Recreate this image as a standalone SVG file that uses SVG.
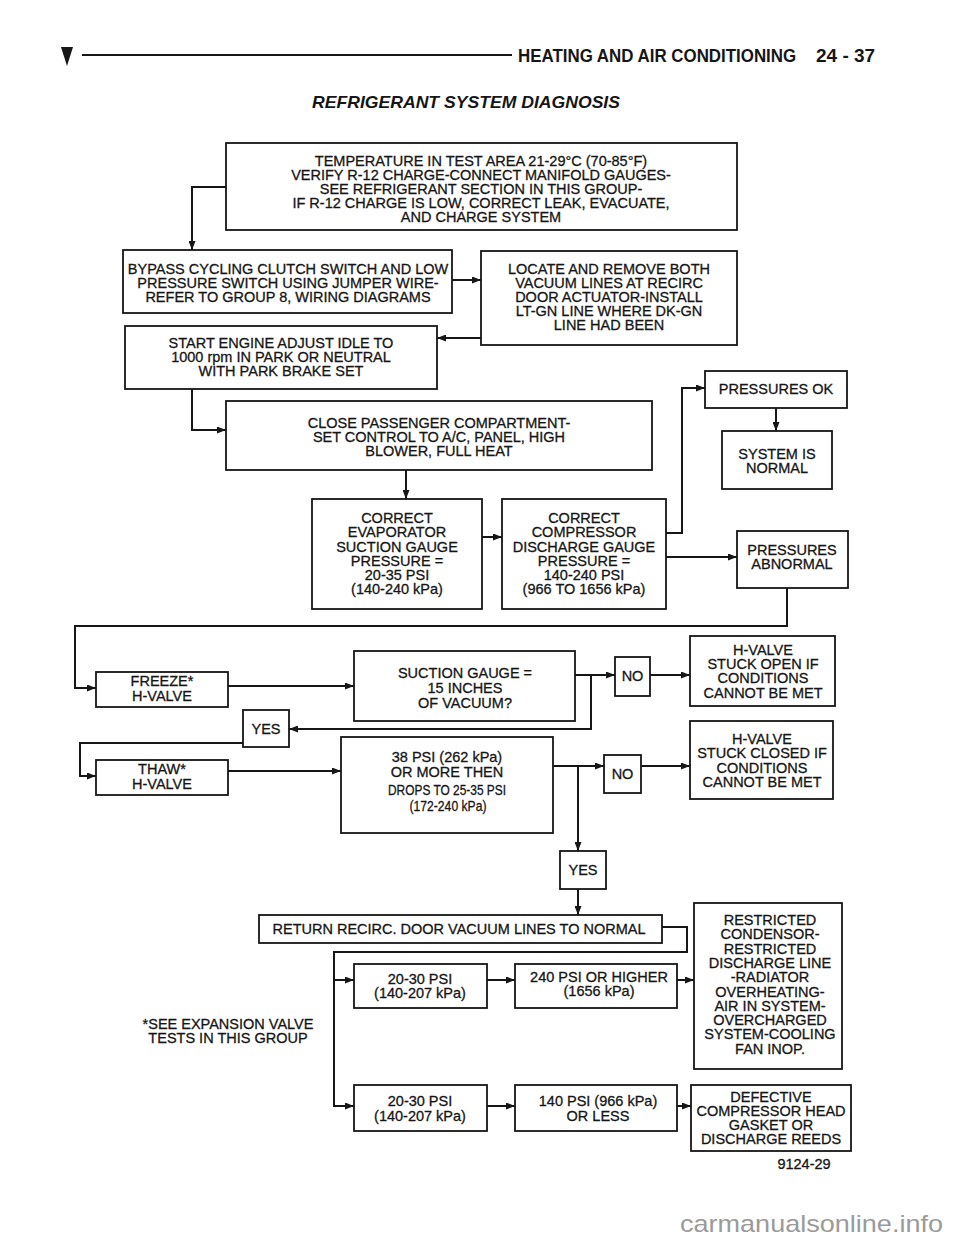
<svg xmlns="http://www.w3.org/2000/svg" width="960" height="1242" viewBox="0 0 960 1242">
<style>
.bx{fill:#fff;stroke:#161616;stroke-width:1.8}
.t{font-family:"Liberation Sans",Arial,sans-serif;font-size:14.5px;fill:#161616;stroke:#161616;stroke-width:0.3;text-anchor:middle}
.c{fill:none;stroke:#161616;stroke-width:2}
.a{fill:none;stroke:#161616;stroke-width:2;marker-end:url(#ah)}
.h{font-family:"Liberation Sans",Arial,sans-serif;font-weight:bold;font-size:19px;fill:#161616}
</style>
<defs>
<marker id="ah" markerWidth="9" markerHeight="7" refX="9" refY="3.5" orient="auto" markerUnits="userSpaceOnUse"><path d="M0,0 L9,3.5 L0,7 z" fill="#161616"/></marker>
</defs>
<rect width="960" height="1242" fill="#fff"/>
<g id="header">
<polygon points="61,47 73,47 67,66" fill="#161616"/>
<line x1="82" y1="55" x2="512" y2="55" stroke="#161616" stroke-width="2.2"/>
<text class="h" transform="translate(518,62) scale(0.89,1)" x="0" y="0">HEATING AND AIR CONDITIONING</text>
<text class="h" x="816" y="62">24 - 37</text>
<text x="312" y="108" font-family="Liberation Sans, Arial, sans-serif" font-weight="bold" font-style="italic" font-size="17" fill="#161616" textLength="308" lengthAdjust="spacingAndGlyphs">REFRIGERANT SYSTEM DIAGNOSIS</text>
</g>
<g id="connectors">
<polyline class="a" points="226,187 192,187 192,250"/>
<line class="a" x1="452" y1="280" x2="481" y2="280"/>
<line class="a" x1="481" y1="338" x2="437" y2="338"/>
<polyline class="a" points="192,389 192,430 226,430"/>
<line class="a" x1="406" y1="470" x2="406" y2="499"/>
<line class="a" x1="482" y1="537" x2="502" y2="537"/>
<polyline class="a" points="666,533 682,533 682,388 705,388"/>
<line class="a" x1="666" y1="557" x2="737" y2="557"/>
<line class="a" x1="776" y1="408" x2="776" y2="431"/>
<polyline class="a" points="787,588 787,626 75,626 75,688 96,688"/>
<line class="a" x1="228" y1="686" x2="354" y2="686"/>
<line class="a" x1="575" y1="675" x2="615" y2="675"/>
<polyline class="a" points="591,675 591,729 289,729"/>
<line class="a" x1="650" y1="675" x2="690" y2="675"/>
<polyline class="a" points="243,743 80,743 80,776 96,776"/>
<line class="a" x1="228" y1="771" x2="341" y2="771"/>
<line class="a" x1="553" y1="766" x2="604" y2="766"/>
<line class="a" x1="578" y1="766" x2="578" y2="851"/>
<line class="a" x1="641" y1="766" x2="690" y2="766"/>
<line class="a" x1="578" y1="889" x2="578" y2="915"/>
<polyline class="c" points="662,927 687,927 687,952 334,952 334,1106"/>
<line class="a" x1="333" y1="980" x2="354" y2="980"/>
<line class="a" x1="333" y1="1106" x2="354" y2="1106"/>
<line class="a" x1="487" y1="980" x2="515" y2="980"/>
<line class="a" x1="677" y1="980" x2="694" y2="980"/>
<line class="a" x1="487" y1="1106" x2="515" y2="1106"/>
<line class="a" x1="677" y1="1106" x2="691" y2="1106"/>
</g>
<g id="n-temperature">
<rect class="bx" x="226" y="143" width="511" height="87"/>
<text class="t" x="481" y="166">TEMPERATURE IN TEST AREA 21-29°C (70-85°F)</text>
<text class="t" x="481" y="180">VERIFY R-12 CHARGE-CONNECT MANIFOLD GAUGES-</text>
<text class="t" x="481" y="194">SEE REFRIGERANT SECTION IN THIS GROUP-</text>
<text class="t" x="481" y="208">IF R-12 CHARGE IS LOW, CORRECT LEAK, EVACUATE,</text>
<text class="t" x="481" y="222">AND CHARGE SYSTEM</text>
</g>
<g id="n-bypass">
<rect class="bx" x="123" y="250" width="329" height="63"/>
<text class="t" x="288" y="274">BYPASS CYCLING CLUTCH SWITCH AND LOW</text>
<text class="t" x="288" y="288">PRESSURE SWITCH USING JUMPER WIRE-</text>
<text class="t" x="288" y="302">REFER TO GROUP 8, WIRING DIAGRAMS</text>
</g>
<g id="n-locate">
<rect class="bx" x="481" y="251" width="256" height="94"/>
<text class="t" x="609" y="274">LOCATE AND REMOVE BOTH</text>
<text class="t" x="609" y="288">VACUUM LINES AT RECIRC</text>
<text class="t" x="609" y="302">DOOR ACTUATOR-INSTALL</text>
<text class="t" x="609" y="316">LT-GN LINE WHERE DK-GN</text>
<text class="t" x="609" y="330">LINE HAD BEEN</text>
</g>
<g id="n-start">
<rect class="bx" x="125" y="326" width="312" height="63"/>
<text class="t" x="281" y="348">START ENGINE ADJUST IDLE TO</text>
<text class="t" x="281" y="362">1000 rpm IN PARK OR NEUTRAL</text>
<text class="t" x="281" y="376">WITH PARK BRAKE SET</text>
</g>
<g id="n-close">
<rect class="bx" x="226" y="401" width="426" height="69"/>
<text class="t" x="439" y="428">CLOSE PASSENGER COMPARTMENT-</text>
<text class="t" x="439" y="442">SET CONTROL TO A/C, PANEL, HIGH</text>
<text class="t" x="439" y="456">BLOWER, FULL HEAT</text>
</g>
<g id="n-evaporator">
<rect class="bx" x="312" y="499" width="170" height="110"/>
<text class="t" x="397" y="523">CORRECT</text>
<text class="t" x="397" y="537">EVAPORATOR</text>
<text class="t" x="397" y="552">SUCTION GAUGE</text>
<text class="t" x="397" y="566">PRESSURE =</text>
<text class="t" x="397" y="580">20-35 PSI</text>
<text class="t" x="397" y="594">(140-240 kPa)</text>
</g>
<g id="n-compressor">
<rect class="bx" x="502" y="499" width="164" height="110"/>
<text class="t" x="584" y="523">CORRECT</text>
<text class="t" x="584" y="537">COMPRESSOR</text>
<text class="t" x="584" y="552">DISCHARGE GAUGE</text>
<text class="t" x="584" y="566">PRESSURE =</text>
<text class="t" x="584" y="580">140-240 PSI</text>
<text class="t" x="584" y="594">(966 TO 1656 kPa)</text>
</g>
<g id="n-pressures-ok">
<rect class="bx" x="705" y="371" width="142" height="37"/>
<text class="t" x="776" y="394">PRESSURES OK</text>
</g>
<g id="n-system-normal">
<rect class="bx" x="722" y="431" width="110" height="58"/>
<text class="t" x="777" y="459">SYSTEM IS</text>
<text class="t" x="777" y="473">NORMAL</text>
</g>
<g id="n-pressures-abnormal">
<rect class="bx" x="737" y="531" width="111" height="57"/>
<text class="t" x="792" y="555">PRESSURES</text>
<text class="t" x="792" y="569">ABNORMAL</text>
</g>
<g id="n-freeze">
<rect class="bx" x="96" y="672" width="132" height="35"/>
<text class="t" x="162" y="686">FREEZE*</text>
<text class="t" x="162" y="701">H-VALVE</text>
</g>
<g id="n-suction">
<rect class="bx" x="354" y="651" width="221" height="70"/>
<text class="t" x="465" y="678">SUCTION GAUGE =</text>
<text class="t" x="465" y="693">15 INCHES</text>
<text class="t" x="465" y="708">OF VACUUM?</text>
</g>
<g id="n-no1">
<rect class="bx" x="615" y="657" width="35" height="39"/>
<text class="t" x="632.5" y="681">NO</text>
</g>
<g id="n-stuck-open">
<rect class="bx" x="690" y="636" width="145" height="70"/>
<text class="t" x="763" y="655">H-VALVE</text>
<text class="t" x="763" y="669">STUCK OPEN IF</text>
<text class="t" x="763" y="683">CONDITIONS</text>
<text class="t" x="763" y="698">CANNOT BE MET</text>
</g>
<g id="n-yes1">
<rect class="bx" x="243" y="710" width="46" height="37"/>
<text class="t" x="266" y="734">YES</text>
</g>
<g id="n-thaw">
<rect class="bx" x="96" y="760" width="132" height="35"/>
<text class="t" x="162" y="774">THAW*</text>
<text class="t" x="162" y="789">H-VALVE</text>
</g>
<g id="n-38psi">
<rect class="bx" x="341" y="737" width="212" height="96"/>
<text class="t" x="447" y="762">38 PSI (262 kPa)</text>
<text class="t" x="447" y="777">OR MORE THEN</text>
<text class="t" x="447" y="795" textLength="118" lengthAdjust="spacingAndGlyphs">DROPS TO 25-35 PSI</text>
<text class="t" x="448" y="811" textLength="77" lengthAdjust="spacingAndGlyphs">(172-240 kPa)</text>
</g>
<g id="n-no2">
<rect class="bx" x="604" y="755" width="37" height="38"/>
<text class="t" x="622.5" y="779">NO</text>
</g>
<g id="n-stuck-closed">
<rect class="bx" x="690" y="721" width="143" height="78"/>
<text class="t" x="762" y="744">H-VALVE</text>
<text class="t" x="762" y="758">STUCK CLOSED IF</text>
<text class="t" x="762" y="773">CONDITIONS</text>
<text class="t" x="762" y="787">CANNOT BE MET</text>
</g>
<g id="n-yes2">
<rect class="bx" x="560" y="851" width="46" height="38"/>
<text class="t" x="583" y="875">YES</text>
</g>
<g id="n-return">
<rect class="bx" x="259" y="915" width="403" height="28"/>
<text class="t" x="459" y="934">RETURN RECIRC. DOOR VACUUM LINES TO NORMAL</text>
</g>
<g id="n-2030-upper">
<rect class="bx" x="354" y="964" width="133" height="44"/>
<text class="t" x="420" y="984">20-30 PSI</text>
<text class="t" x="420" y="998">(140-207 kPa)</text>
</g>
<g id="n-240psi">
<rect class="bx" x="515" y="964" width="162" height="44"/>
<text class="t" x="599" y="982">240 PSI OR HIGHER</text>
<text class="t" x="599" y="996">(1656 kPa)</text>
</g>
<g id="n-restricted">
<rect class="bx" x="694" y="903" width="148" height="166"/>
<text class="t" x="770" y="925">RESTRICTED</text>
<text class="t" x="770" y="939.3">CONDENSOR-</text>
<text class="t" x="770" y="953.6">RESTRICTED</text>
<text class="t" x="770" y="967.9">DISCHARGE LINE</text>
<text class="t" x="770" y="982.2">-RADIATOR</text>
<text class="t" x="770" y="996.5">OVERHEATING-</text>
<text class="t" x="770" y="1010.8">AIR IN SYSTEM-</text>
<text class="t" x="770" y="1025.1">OVERCHARGED</text>
<text class="t" x="770" y="1039.4">SYSTEM-COOLING</text>
<text class="t" x="770" y="1053.7">FAN INOP.</text>
</g>
<g id="n-2030-lower">
<rect class="bx" x="354" y="1085" width="133" height="46"/>
<text class="t" x="420" y="1106">20-30 PSI</text>
<text class="t" x="420" y="1121">(140-207 kPa)</text>
</g>
<g id="n-140psi">
<rect class="bx" x="515" y="1085" width="162" height="46"/>
<text class="t" x="598" y="1106">140 PSI (966 kPa)</text>
<text class="t" x="598" y="1121">OR LESS</text>
</g>
<g id="n-defective">
<rect class="bx" x="691" y="1085" width="160" height="66"/>
<text class="t" x="771" y="1102">DEFECTIVE</text>
<text class="t" x="771" y="1116">COMPRESSOR HEAD</text>
<text class="t" x="771" y="1130">GASKET OR</text>
<text class="t" x="771" y="1144">DISCHARGE REEDS</text>
</g>
<g id="notes">
<text class="t" x="228" y="1029">*SEE EXPANSION VALVE</text>
<text class="t" x="228" y="1043">TESTS IN THIS GROUP</text>
<text class="t" x="804" y="1169">9124-29</text>
<text x="680" y="1232" font-family="Liberation Sans, Arial, sans-serif" font-size="24" fill="#9a9a9a" textLength="263" lengthAdjust="spacingAndGlyphs">carmanualsonline.info</text>
</g>
</svg>
